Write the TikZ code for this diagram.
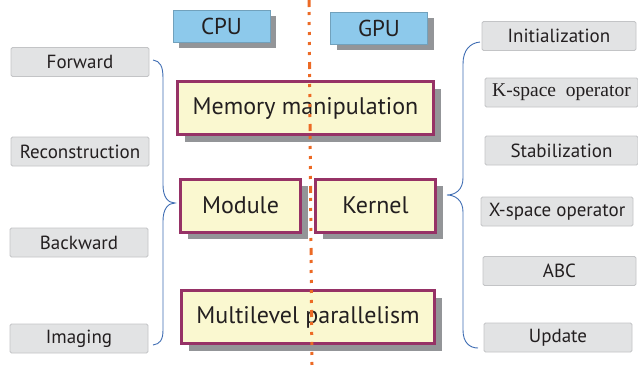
\documentclass[tikz,border=0pt]{standalone}
\usepackage{fontspec}
\setmainfont{PT Sans}
\newfontfamily\serifface{Liberation Serif}
\usetikzlibrary{shadows}
\definecolor{cpublue}{RGB}{141,201,235}
\definecolor{shadegray}{RGB}{147,149,152}
\definecolor{boxpurple}{RGB}{150,50,102}
\definecolor{boxyellow}{RGB}{250,248,208}
\definecolor{labelgray}{RGB}{226,227,228}
\definecolor{labelline}{RGB}{195,196,198}
\definecolor{dotorange}{RGB}{236,106,37}
\definecolor{braceblue}{RGB}{63,109,179}
\definecolor{inkblack}{RGB}{35,31,32}
\begin{document}
\begin{tikzpicture}[x=1pt, y=-1pt, inner sep=0pt, text=inkblack,
		headstyle/.style={fill=cpublue, draw=cpublue!80!black, line width=0.6pt,
			minimum width=97pt, minimum height=32pt, font=\fontsize{23}{26}\selectfont,
			drop shadow={shadow xshift=6pt, shadow yshift=-6pt, fill=shadegray, opacity=1}},
		corestyle/.style={fill=boxyellow, draw=boxpurple, line width=3pt,
			minimum height=53pt, font=\fontsize{24}{27}\selectfont,
			drop shadow={shadow xshift=7pt, shadow yshift=-7pt, fill=shadegray, opacity=1}},
		labelstyle/.style={fill=labelgray, draw=labelline, line width=0.8pt, rounded corners=1.5pt,
			minimum width=138pt, minimum height=29pt, font=\fontsize{19}{22}\selectfont},
		bracestyle/.style={draw=braceblue, line width=0.9pt},
		splitstyle/.style={draw=dotorange, line width=3pt,
			dash pattern=on 7pt off 5pt on 3pt off 7pt on 3pt off 7pt on 3pt off 7pt on 3pt off 7pt on 3pt off 7pt}]

		\useasboundingbox (0,0) rectangle (638,365);

		\node [headstyle] (cpu) at (221.5,26) {CPU};
		\node [headstyle] (gpu) at (379,28) {GPU};

		\node [corestyle, minimum width=256pt] (mem) at (305.5,108) {Memory manipulation};
		\node [corestyle, minimum width=120pt] (module) at (240.5,205.5) {Module};
		\node [corestyle, minimum width=120pt] (kernel) at (375.5,205.5) {Kernel};
		\node [corestyle, minimum width=253pt] (multi) at (308,317) {Multilevel parallelism};

		\node [labelstyle] (fwd) at (80,62) {Forward};
		\node [labelstyle] (recon) at (80,151.5) {Reconstruction};
		\node [labelstyle] (bwd) at (79,242.5) {Backward};
		\node [labelstyle] (img) at (79,338.5) {Imaging};

		\node [labelstyle, minimum width=154pt] (init) at (559,36) {Initialization};
		\node [labelstyle, minimum width=153pt, font=\serifface\fontsize{19.5}{22}\selectfont] (kspace) at (561.5,92.5) {K-space\hspace{0.5em}operator};
		\node [labelstyle, minimum width=153pt] (stab) at (561.5,150.5) {Stabilization};
		\node [labelstyle, minimum width=152pt] (xspace) at (557,211.5) {X-space operator};
		\node [labelstyle, minimum width=153pt] (abc) at (559.5,271) {ABC};
		\node [labelstyle, minimum width=148pt] (upd) at (558,337.5) {Update};

		% braces
		\coordinate (ltop) at (153,60);
		\coordinate (ltip) at (175,203);
		\coordinate (lbot) at (153,345);
		\coordinate (rtop) at (480,42);
		\coordinate (rtip) at (447,195);
		\coordinate (rbot) at (478,348);

		\draw [bracestyle] (ltop) .. controls (160,61) and (163,66) .. (163,78) -- (163,185)
			.. controls (163,197) and (168,203) .. (ltip)
			.. controls (168,203) and (163,209) .. (163,221) -- (163,330)
			.. controls (163,340) and (160,344) .. (lbot);
		\draw [bracestyle] (rtop) .. controls (470,43) and (463,50) .. (463,64) -- (463,178)
			.. controls (463,190) and (455,195) .. (rtip)
			.. controls (455,195) and (463,200) .. (463,212) -- (463,330)
			.. controls (463,343) and (470,348) .. (rbot);

		% split line
		\coordinate (stop) at (309,0);
		\coordinate (sbot) at (312,365);
		\draw [splitstyle] (stop) -- (sbot);
		\end{tikzpicture}
\end{document}
